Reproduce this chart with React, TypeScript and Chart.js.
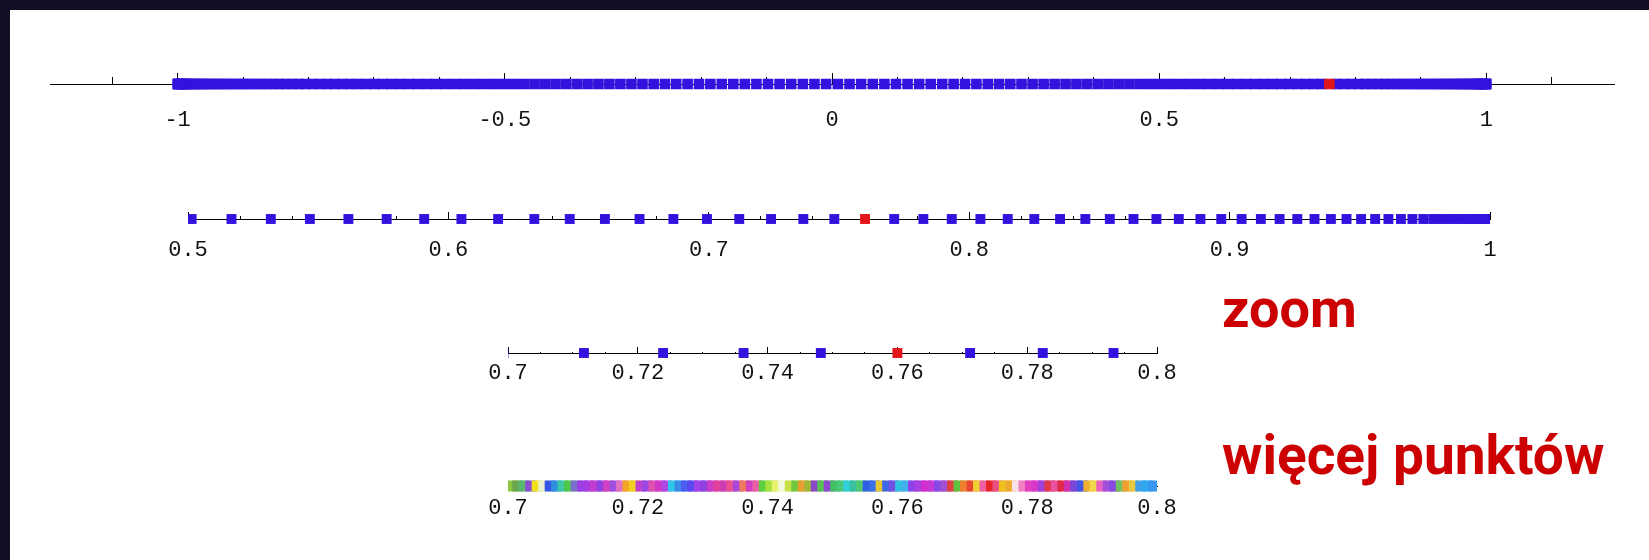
import React, { useEffect, useRef } from 'react';
import { Chart, registerables } from 'chart.js';
Chart.register(...registerables);

// Node positions on [0, 1], the highlighted node, and their mirror on [-1, 0]
const posNodes = [
  0.9999, 0.9995, 0.9988, 0.9978, 0.9964, 0.9948, 0.9928, 0.9905, 0.9879, 0.9850,
  0.9818, 0.9782, 0.9744, 0.9702, 0.9658, 0.9610, 0.9559, 0.9505, 0.9449, 0.9389,
  0.9326, 0.9260, 0.9192, 0.9120, 0.9046, 0.8968, 0.8888, 0.8805, 0.8719, 0.8631,
  0.8540, 0.8446, 0.8349, 0.8250, 0.8148, 0.8043, 0.7933, 0.7824, 0.7712,
  0.7482, 0.7363, 0.7239, 0.7117, 0.6993, 0.6864, 0.6734, 0.6601, 0.6466, 0.6330,
  0.6191, 0.6050, 0.5907, 0.5763, 0.5616, 0.5468, 0.5318, 0.5167, 0.5014, 0.4859,
  0.4702, 0.4545, 0.4385, 0.4225, 0.4063, 0.3899, 0.3735, 0.3569, 0.3402, 0.3234,
  0.3065, 0.2896, 0.2725, 0.2553, 0.2381, 0.2207, 0.2033, 0.1859, 0.1684, 0.1508,
  0.1332, 0.1155, 0.0978, 0.0801, 0.0623, 0.0445, 0.0268, 0.0090,
];
const redNode = [0.7600];
const negNodes = [
  -0.0090, -0.0268, -0.0445, -0.0623, -0.0801, -0.0978, -0.1155, -0.1332, -0.1508, -0.1684,
  -0.1859, -0.2033, -0.2207, -0.2381, -0.2553, -0.2725, -0.2896, -0.3065, -0.3234, -0.3402,
  -0.3569, -0.3735, -0.3899, -0.4063, -0.4225, -0.4385, -0.4545, -0.4702, -0.4859, -0.5014,
  -0.5167, -0.5318, -0.5468, -0.5616, -0.5763, -0.5907, -0.6050, -0.6191, -0.6330, -0.6466,
  -0.6601, -0.6734, -0.6864, -0.6993, -0.7119, -0.7243, -0.7364, -0.7483, -0.7600, -0.7715,
  -0.7827, -0.7936, -0.8043, -0.8148, -0.8250, -0.8349, -0.8446, -0.8540, -0.8631, -0.8719,
  -0.8805, -0.8888, -0.8968, -0.9046, -0.9120, -0.9192, -0.9260, -0.9326, -0.9389, -0.9449,
  -0.9505, -0.9559, -0.9610, -0.9658, -0.9702, -0.9744, -0.9782, -0.9818, -0.9850, -0.9879,
  -0.9905, -0.9928, -0.9948, -0.9964, -0.9978, -0.9988, -0.9995, -0.9999,
];

// "więcej punktów": dense points on [0.7, 0.8] and their colours
const moreValues = [
  0.7005, 0.7015, 0.7025, 0.7035, 0.7045, 0.7055, 0.7065, 0.7075, 0.7085, 0.7095,
  0.7105, 0.7115, 0.7125, 0.7135, 0.7145, 0.7155, 0.7165, 0.7175, 0.7185, 0.7195,
  0.7205, 0.7215, 0.7225, 0.7235, 0.7245, 0.7255, 0.7265, 0.7275, 0.7285, 0.7295,
  0.7305, 0.7315, 0.7325, 0.7335, 0.7345, 0.7355, 0.7365, 0.7375, 0.7385, 0.7395,
  0.7405, 0.7415, 0.7425, 0.7435, 0.7445, 0.7455, 0.7465, 0.7475, 0.7485, 0.7495,
  0.7505, 0.7515, 0.7525, 0.7535, 0.7545, 0.7555, 0.7565, 0.7575, 0.7585, 0.7595,
  0.7605, 0.7615, 0.7625, 0.7635, 0.7645, 0.7655, 0.7665, 0.7675, 0.7685, 0.7695,
  0.7705, 0.7715, 0.7725, 0.7735, 0.7745, 0.7755, 0.7765, 0.7775, 0.7785, 0.7795,
  0.7805, 0.7815, 0.7825, 0.7835, 0.7845, 0.7855, 0.7865, 0.7875, 0.7885, 0.7895,
  0.7905, 0.7915, 0.7925, 0.7935, 0.7945, 0.7955, 0.7965, 0.7975, 0.7985, 0.7995,
];
const moreColors = [
  '#8cc63f', '#6aa84f', '#58b870', '#8a4fd0', '#f2e21a', '#e8f0d0', '#3355e6', '#2f8fe0', '#3cc8a8', '#4fc84a',
  '#7a70c8', '#9a3ee6', '#a83ce0', '#c03cd0', '#9040e0', '#d040c0', '#a050e0', '#e070c0', '#f5a623', '#f0d020',
  '#c040d0', '#9a48e0', '#e050b0', '#d038c8', '#b048e8', '#30c8e8', '#3a8ae8', '#4a5ef0', '#5a48f0', '#a040e8',
  '#8c40e0', '#c83cc8', '#e0409c', '#d03cb4', '#e85090', '#a848d8', '#f07a5a', '#d040c0', '#e860a8', '#5cd040',
  '#a8e040', '#e8f070', '#f0f8e0', '#c8e048', '#70c840', '#e8a030', '#a0b838', '#8848c8', '#58c050', '#9048d0',
  '#40c060', '#48c878', '#30d0d8', '#38c0a0', '#50c870', '#3060e0', '#3a70e8', '#e8c830', '#4068e8', '#7050e0',
  '#30c0e0', '#40b0e8', '#9040e8', '#a840e0', '#d030d0', '#c838d8', '#8848e8', '#a050d0', '#e04040', '#60c040',
  '#f08030', '#e84830', '#f0d030', '#f060a0', '#e82828', '#e85080', '#f0c020', '#f0a830', '#f8e0e8', '#f080c0',
  '#e040c0', '#d838c8', '#a040d8', '#e03848', '#e850a0', '#e02848', '#d030b0', '#7848d8', '#4058e0', '#f0b030',
  '#f0d848', '#e860c0', '#a050d8', '#8848e0', '#70c060', '#f0a030', '#e8c840', '#40a0e8', '#30a8f0', '#3898f0',
];

const BLUE = '#3212dc';
const RED = '#e0161a';
const LABEL_FONT = '"Liberation Mono", "DejaVu Sans Mono", monospace';
const W = 1649;

const toPts = (arr: number[]) => arr.map((x) => ({ x, y: 0 }));

type Spec = {
  top: number;
  height: number;
  min: number;
  max: number;
  padLeft: number;
  padRight: number;
  minorStep: number;
  majorStep: number;
  minorLen: number;
  majorLen: number;
  labelPad: number;
  showMinor: boolean;
  datasets: any[];
};

const nodeDatasets = (withNeg: boolean, r: number) => {
  const ds: any[] = [
    { data: toPts(redNode), backgroundColor: RED, pointStyle: 'rect', pointRadius: r, borderWidth: 0, pointBorderWidth: 0 },
    { data: toPts(posNodes), backgroundColor: BLUE, pointStyle: 'rect', pointRadius: r, borderWidth: 0, pointBorderWidth: 0 },
  ];
  if (withNeg) {
    ds.push({ data: toPts(negNodes), backgroundColor: BLUE, pointStyle: 'rect', pointRadius: r, borderWidth: 0, pointBorderWidth: 0 });
  }
  return ds;
};

const specs: Spec[] = [
  {
    top: 34, height: 100, min: -1.195, max: 1.195, padLeft: 50, padRight: W - 1614,
    minorStep: 0.1, majorStep: 0.5, minorLen: 8, majorLen: 11, labelPad: 33.5, showMinor: true,
    datasets: nodeDatasets(true, 7.5),
  },
  {
    top: 169, height: 100, min: 0.5, max: 1.0, padLeft: 188, padRight: W - 1490,
    minorStep: 0.02, majorStep: 0.1, minorLen: 4, majorLen: 7, labelPad: 25, showMinor: true,
    datasets: nodeDatasets(false, 7),
  },
  {
    top: 303, height: 100, min: 0.7, max: 0.8, padLeft: 508, padRight: W - 1157,
    minorStep: 0.005, majorStep: 0.02, minorLen: 2, majorLen: 6, labelPad: 13, showMinor: true,
    datasets: nodeDatasets(false, 7),
  },
  {
    top: 436, height: 100, min: 0.7, max: 0.8, padLeft: 508, padRight: W - 1157,
    minorStep: 0.005, majorStep: 0.02, minorLen: 0, majorLen: 0, labelPad: 9, showMinor: false,
    datasets: [
      {
        data: toPts(moreValues), backgroundColor: moreColors, pointStyle: 'rect', pointRadius: 7.8,
        borderWidth: 0, pointBorderWidth: 0,
      },
    ],
  },
];

function makeChart(canvas: HTMLCanvasElement, s: Spec) {
  return new Chart(canvas, {
    type: 'scatter',
    data: { datasets: s.datasets },
    options: {
      responsive: false,
      animation: false,
      events: [],
      layout: { padding: { left: s.padLeft, right: s.padRight, top: 0, bottom: 0 } },
      plugins: { legend: { display: false }, tooltip: { enabled: false } },
      scales: {
        y: { display: false, min: -1, max: 1 },
        x: {
          type: 'linear',
          min: s.min,
          max: s.max,
          position: { y: 0 } as any,
          grid: {
            display: s.showMinor,
            drawOnChartArea: false,
            drawTicks: true,
            tickLength: -s.minorLen,
            color: '#000',
            lineWidth: 1,
          },
          border: { display: true, color: '#000', width: 1 },
          ticks: { display: false, stepSize: s.minorStep, includeBounds: false, autoSkip: false },
        },
        x2: {
          type: 'linear',
          axis: 'x',
          min: s.min,
          max: s.max,
          position: { y: 0 } as any,
          grid: {
            display: true,
            drawOnChartArea: false,
            drawTicks: true,
            tickLength: -s.majorLen,
            color: '#000',
            lineWidth: 1,
          },
          border: { display: false },
          ticks: {
            display: true,
            stepSize: s.majorStep,
            includeBounds: false,
            autoSkip: false,
            maxRotation: 0,
            minRotation: 0,
            padding: s.labelPad,
            color: '#111',
            font: { family: LABEL_FONT, size: 22 },
            callback: (v: any) => String(Number(v)),
          },
        },
      } as any,
    },
  } as any);
}

export default function App() {
  const refs = useRef<(HTMLCanvasElement | null)[]>([]);

  useEffect(() => {
    const charts = specs.map((s, i) => makeChart(refs.current[i] as HTMLCanvasElement, s));
    return () => charts.forEach((c) => c.destroy());
  }, []);

  return (
    <div
      style={{
        position: 'absolute', left: 0, top: 0, width: W, height: 560,
        background: '#100d24', overflow: 'hidden',
      }}
    >
      <div style={{ position: 'absolute', left: 10, top: 10, right: 0, bottom: 0, background: '#ffffff' }} />
      {specs.map((s, i) => (
        <canvas
          key={i}
          ref={(el) => { refs.current[i] = el; }}
          width={W}
          height={s.height}
          style={{ position: 'absolute', left: 0, top: s.top, width: W, height: s.height }}
        />
      ))}
      <svg
        width={W}
        height={560}
        style={{ position: 'absolute', left: 0, top: 0, pointerEvents: 'none' }}
      >
        <text x={1222} y={327} fill="#cc0000" fontFamily="Roboto, 'Noto Sans', sans-serif" fontWeight={700} fontSize={54}>
          zoom
        </text>
        <text x={1222} y={474} fill="#cc0000" fontFamily="Roboto, 'Noto Sans', sans-serif" fontWeight={700} fontSize={55}>
          więcej punktów
        </text>
      </svg>
    </div>
  );
}
